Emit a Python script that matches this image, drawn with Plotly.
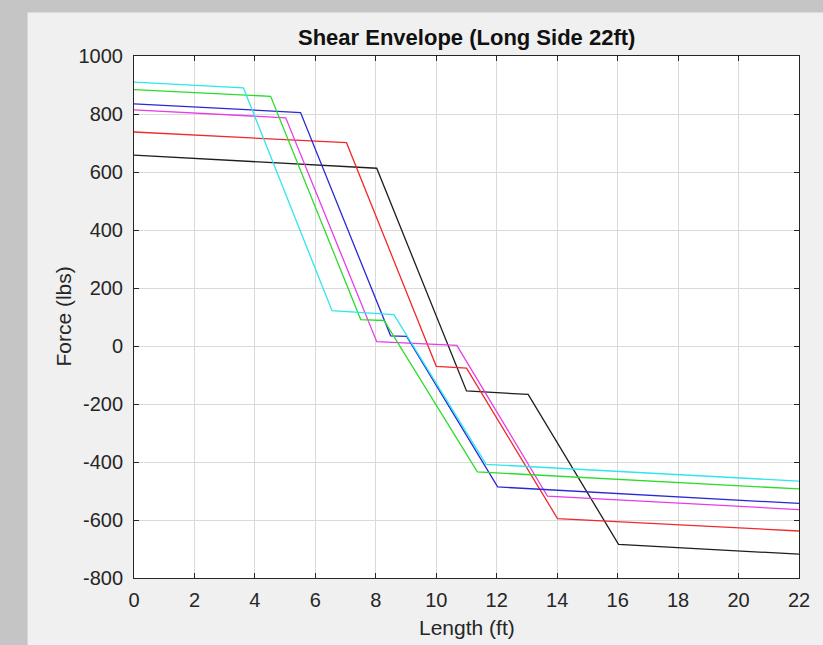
import plotly.graph_objects as go

# ---- data ----
x_black = [0, 8.03, 11.0, 13.04, 16.03, 22]
y_black = [658, 613, -155, -167, -684, -718]
x_red = [0, 7.03, 10.0, 11.0, 14.01, 22]
y_red = [738, 701, -70, -76, -595, -638]
x_magenta = [0, 5.02, 8.03, 10.68, 13.68, 22]
y_magenta = [814, 787, 15, 2, -518, -564]
x_blue = [0, 5.51, 8.49, 9.02, 12.03, 22]
y_blue = [835, 805, 35, 33, -486, -543]
x_green = [0, 4.52, 7.5, 8.27, 11.36, 22]
y_green = [884, 861, 91, 88, -434, -493]
x_cyan = [0, 3.62, 6.55, 8.6, 11.65, 22]
y_cyan = [910, 890, 122, 108, -408, -466]

x_ticks = list(range(0, 23, 2))
y_ticks = list(range(-800, 1001, 200))

title_text = "Shear Envelope (Long Side 22ft)"
x_label = "Length (ft)"
y_label = "Force (lbs)"

series = [
    (x_black, y_black, "#1e1e1e"),
    (x_red, y_red, "#f02a2a"),
    (x_magenta, y_magenta, "#e83ce8"),
    (x_blue, y_blue, "#2828d8"),
    (x_green, y_green, "#2cdc2c"),
    (x_cyan, y_cyan, "#2ee6ee"),
]

W, H = 823, 645
L, R, T, B = 133.5, 799.0, 55.5, 578.0
pw, ph = R - L, B - T

fig = go.Figure()
for xs, ys, c in series:
    fig.add_trace(go.Scatter(x=xs, y=ys, mode="lines",
                             line=dict(color=c, width=1.3), showlegend=False,
                             hoverinfo="skip"))

def px_x(p):
    return (p - L) / pw

def px_y(p):
    return (B - p) / ph

FONT = "Liberation Sans, Arial, sans-serif"
TXT = "#262626"
GRAY = "#c5c5c5"

fig.update_layout(
    width=W, height=H,
    margin=dict(l=L, r=W - R, t=T, b=H - B, pad=0),
    paper_bgcolor="#f0f0f0",
    plot_bgcolor="white",
    font=dict(family=FONT, color=TXT, size=20),
    shapes=[
        dict(type="rect", xref="paper", yref="paper",
             x0=px_x(-5), x1=px_x(830), y0=px_y(12), y1=px_y(-5),
             fillcolor=GRAY, line=dict(width=0), layer="below"),
        dict(type="rect", xref="paper", yref="paper",
             x0=px_x(-5), x1=px_x(27), y0=px_y(650), y1=px_y(-5),
             fillcolor=GRAY, line=dict(width=0), layer="below"),
    ],
    annotations=[
        dict(text="<b>" + title_text + "</b>", xref="paper", yref="paper",
             x=0.5, y=px_y(37), xanchor="center", yanchor="middle",
             showarrow=False, font=dict(size=22, color="#111111", family=FONT)),
        dict(text=x_label, xref="paper", yref="paper",
             x=0.5, y=px_y(628), xanchor="center", yanchor="middle",
             showarrow=False, font=dict(size=21, color=TXT, family=FONT)),
        dict(text=y_label, xref="paper", yref="paper", textangle=-90,
             x=px_x(62), y=0.5, xanchor="center", yanchor="middle",
             showarrow=False, font=dict(size=21, color=TXT, family=FONT)),
    ],
)

fig.update_xaxes(range=[0, 22], tickvals=x_ticks, ticktext=[str(v) for v in x_ticks],
                 showgrid=True, gridcolor="#dadada", gridwidth=1,
                 showline=True, linecolor="#262626", linewidth=1, mirror="ticks",
                 ticks="inside", ticklen=5, tickcolor="#262626",
                 zeroline=False, tickfont=dict(size=20, color=TXT),
                 ticklabelstandoff=4)
fig.update_yaxes(range=[-800, 1000], tickvals=y_ticks, ticktext=[str(v) for v in y_ticks],
                 showgrid=True, gridcolor="#dadada", gridwidth=1,
                 showline=True, linecolor="#262626", linewidth=1, mirror="ticks",
                 ticks="inside", ticklen=5, tickcolor="#262626",
                 zeroline=False, tickfont=dict(size=20, color=TXT),
                 ticklabelstandoff=6)

fig.write_html("out.html",
               config={"displayModeBar": False},
               post_script="document.body.style.margin='0px';"
                           "document.body.style.background='#f0f0f0';"
                           "document.body.style.overflow='hidden';")
